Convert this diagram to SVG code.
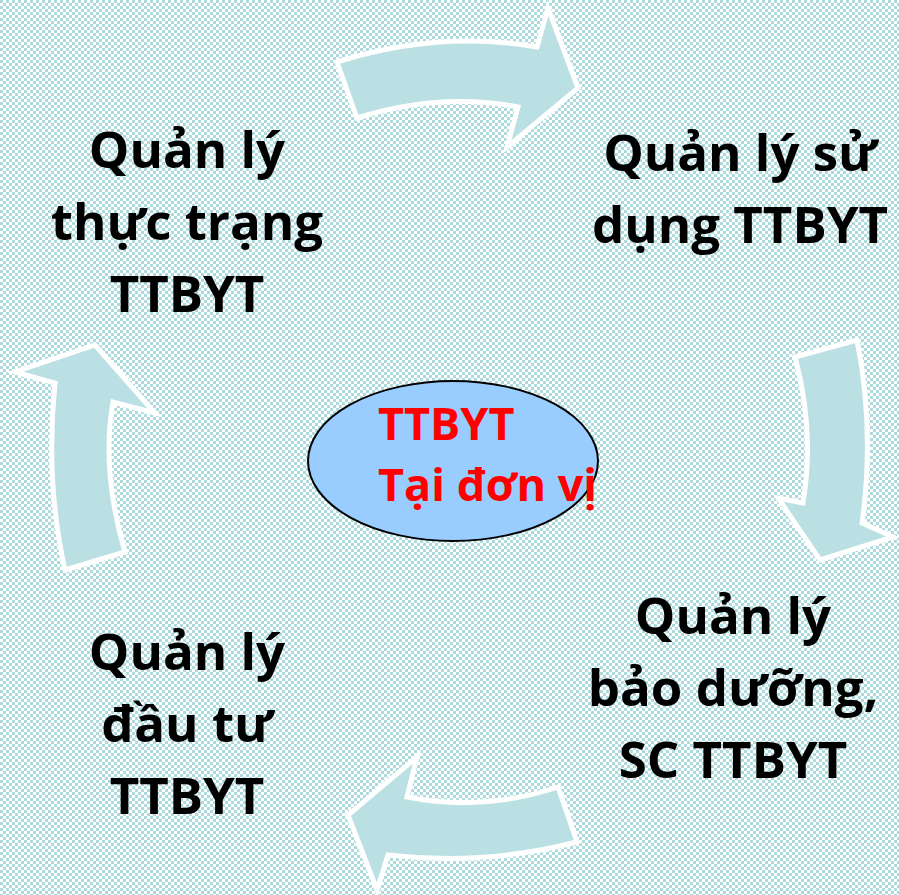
<svg xmlns="http://www.w3.org/2000/svg" width="899" height="895" viewBox="0 0 899 895">
  <defs>
    <pattern id="checker" patternUnits="userSpaceOnUse" width="6" height="6">
      <rect width="6" height="6" fill="#ffffff"/>
      <rect x="0" y="0" width="3" height="3" fill="#acdadd"/>
      <rect x="3" y="3" width="3" height="3" fill="#acdadd"/>
    </pattern>
    <style>
      .arrow { fill: #bae0e3; stroke: #ffffff; stroke-width: 5; stroke-linejoin: miter; }
      .lbl { font-family: "Open Sans", "Noto Sans", "DejaVu Sans", sans-serif; font-weight: bold; font-size: 51px; fill: #000000; text-anchor: middle; }
      .ctr { font-family: "Open Sans", "Noto Sans", "DejaVu Sans", sans-serif; font-weight: bold; font-size: 45px; fill: #ff0000; }
    </style>
  </defs>
  <rect x="0" y="0" width="899" height="895" fill="url(#checker)"/>

  <g id="connectors">
    <path class="arrow" d="M337,62 Q440,30 537,47 L548,8 L578,88 L507,147 L518,107 Q440,92 357,118 Z"/>
    <path class="arrow" d="M795,357 L857,340 Q875,430 862,523 L893,537 L820,560 L778,498 L803,503 Q815,430 795,357 Z"/>
    <path class="arrow" d="M558,787 Q483,812 407,797 L417,757 L348,815 L377,890 L388,855 Q483,866 577,842 Z"/>
    <path class="arrow" d="M65,570 L125,552 Q101,470 113,402 L155,413 L95,345 L15,372 L55,383 Q45,480 65,570 Z"/>
  </g>

  <g id="node-thuc-trang">
    <text class="lbl" x="187" y="168">Quản lý</text>
    <text class="lbl" x="187" y="240">thực trạng</text>
    <text class="lbl" x="187" y="312">TTBYT</text>
  </g>

  <g id="node-su-dung">
    <text class="lbl" x="740" y="171">Quản lý sử</text>
    <text class="lbl" x="740" y="243">dụng TTBYT</text>
  </g>

  <g id="node-bao-duong">
    <text class="lbl" x="733" y="634">Quản lý</text>
    <text class="lbl" x="733" y="706">bảo dưỡng,</text>
    <text class="lbl" x="733" y="778">SC TTBYT</text>
  </g>

  <g id="node-dau-tu">
    <text class="lbl" x="187" y="670">Quản lý</text>
    <text class="lbl" x="187" y="742">đầu tư</text>
    <text class="lbl" x="187" y="814">TTBYT</text>
  </g>

  <g id="node-center">
    <ellipse cx="453" cy="461" rx="145" ry="80" fill="#99ccff" stroke="#000000" stroke-width="2"/>
    <text class="ctr" x="378" y="440">TTBYT</text>
    <text class="ctr" x="378" y="501">Tại đơn vị</text>
  </g>
</svg>
